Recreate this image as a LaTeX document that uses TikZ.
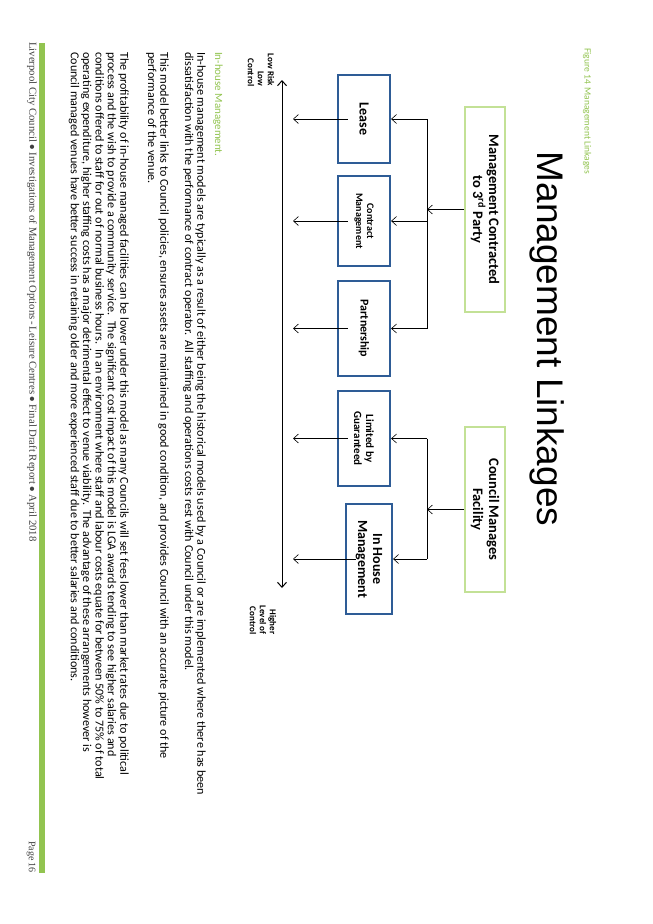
\documentclass[tikz,border=0pt]{standalone}
\usepackage{fontspec}
\setmainfont{Carlito}
\newfontfamily\arialf{Liberation Sans}
\newfontfamily\serf{Liberation Serif}
\usetikzlibrary{arrows.meta}
\definecolor{bluebox}{RGB}{46,92,150}
\definecolor{greenbox}{RGB}{195,225,150}
\definecolor{greentxt}{RGB}{146,196,80}
\begin{document}
\begin{tikzpicture}[x=1pt,y=-1pt,
  rot/.style={rotate=-90,inner sep=0pt},
  bbox/.style={rot,draw=bluebox,line width=2.2pt,align=center,font=\bfseries},
  gbox/.style={rot,draw=greenbox,line width=1.6pt,align=center,font=\bfseries\fontsize{14.5}{16}\selectfont},
  arr/.style={-{Straight Barb[length=5pt,width=9pt]},line width=0.6pt},
  ln/.style={line width=0.6pt},
  para/.style={rot,anchor=north west,align=left,font=\fontsize{12.1}{12.4}\selectfont}]
\useasboundingbox (0,0) rectangle (653,924);
\fill[white] (0,0) rectangle (653,924);
% title and caption
\node[rot,font=\arialf\fontsize{37}{40}\selectfont] (title) at (547,339) {Management Linkages};
\node[rot,anchor=west,text=greentxt,font=\fontsize{9.5}{11}\selectfont] (cap) at (587,48) {Figure 14\, Management Linkages};
% green boxes
\node[gbox,minimum width=205,minimum height=40] (g1) at (485,209.5) {Management Contracted\\to 3\textsuperscript{rd} Party};
\node[gbox,minimum width=165,minimum height=40] (g2) at (485,509.5) {Council Manages\\Facility};
% blue boxes
\node[bbox,minimum width=88,minimum height=52,font=\bfseries\fontsize{14}{16}\selectfont] (lease) at (364,119) {Lease};
\node[bbox,minimum width=90,minimum height=52,font=\bfseries\fontsize{10}{11}\selectfont] (contract) at (364,221) {Contract\\Management};
\node[bbox,minimum width=95,minimum height=52,font=\bfseries\fontsize{12}{14}\selectfont] (partner) at (364,328.5) {Partnership};
\node[bbox,minimum width=95,minimum height=52,font=\bfseries\fontsize{11}{12}\selectfont] (limited) at (364,438.5) {Limited by\\Guaranteed};
\node[bbox,minimum width=110,minimum height=46,font=\bfseries\fontsize{14}{15}\selectfont] (inhouse) at (369,559) {In House\\Management};
% buses
\coordinate (b1t) at (427,119);
\coordinate (b1b) at (427,328.5);
\coordinate (b2t) at (427,438.5);
\coordinate (b2b) at (427,559);
\draw[ln] (b1t) -- (b1b);
\draw[ln] (b2t) -- (b2b);
\draw[arr] (g1.south) -- (g1.south -| b1t);
\draw[arr] (g2.south) -- (g2.south -| b2t);
\foreach \n in {lease,contract,partner}{\draw[arr] (\n.north -| b1t) -- (\n.north);}
\foreach \n in {limited,inhouse}{\draw[arr] (\n.north -| b2t) -- (\n.north);}
% axis
\coordinate (axt) at (282,80);
\coordinate (axb) at (282,588);
\draw[{Straight Barb[length=5pt,width=9pt]}-{Straight Barb[length=5pt,width=9pt]},line width=1pt] (axt) -- (axb);
\foreach \n in {lease,contract,partner,limited,inhouse}{\draw[arr] ([xshift=11pt]\n.south) -- ([xshift=11pt]\n.south -| axt);}
\node[rot,align=right,font=\bfseries\fontsize{9}{10}\selectfont] (lowlab) at (261,70) {Low Risk\\Low\\Control};
\node[rot,align=right,font=\bfseries\fontsize{9}{10}\selectfont] (highlab) at (263,620) {Higher\\Level of\\Control};
% text
\node[rot,anchor=west,text=greentxt,font=\fontsize{11}{12}\selectfont] (head) at (218,52) {In-house Management.};
\node[para] (p1) at (206,52) {In-house management models are typically as a result of either being the historical models used by a Council or are implemented where there has been\\dissatisfaction with the performance of contract operator.\ \ All staffing and operations costs rest with Council under this model.};
\node[para] (p2) at (169,52) {This model better links to Council policies, ensures assets are maintained in good condition, and provides Council with an accurate picture of the\\performance of the venue.};
\node[para] (p3) at (129,52) {The profitability of in-house managed facilities can be lower under this model as many Councils will set fees lower than market rates due to political\\process and the wish to provide a community service.\ \ The significant cost impact of this model is LGA awards tending to see higher salaries and\\conditions offered to staff for out of normal business hours.\ \ In an environment where staff and labour costs equate for between 50\% to 75\% of total\\operating expenditure, higher staffing costs has a major detrimental effect to venue viability.\ \ The advantage of these arrangements however is\\Council managed venues have better success in retaining older and more experienced staff due to better salaries and conditions.};
% footer
\fill[greentxt] (39,43) rectangle (45,873);
\node[rot,anchor=west,font=\serf\fontsize{10.7}{12}\selectfont,text=black!75] (foot) at (32,42) {Liverpool City Council $\bullet$ Investigations of Management Options\,-\,Leisure Centres $\bullet$ Final Draft Report $\bullet$ April 2018};
\node[rot,font=\serf\fontsize{10}{11}\selectfont,text=black!75] (page) at (31,857) {Page 16};
\end{tikzpicture}
\end{document}
